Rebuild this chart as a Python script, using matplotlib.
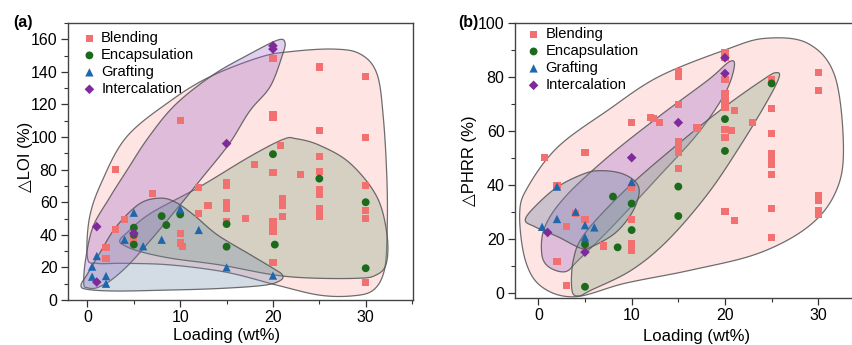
import numpy as np
import matplotlib
matplotlib.use("Agg")
import matplotlib.pyplot as plt
from matplotlib.ticker import MultipleLocator

plt.rcParams['font.family'] = ['Liberation Sans', 'DejaVu Sans']

# ---- panel (a): LOI ----
blend_a_x = [3, 10, 20, 20, 20, 25, 30, 25, 30, 20.8, 18, 20, 23, 25, 25, 25, 25, 30,
             25, 25, 25, 21, 21, 21, 30, 30, 30, 20, 20, 20, 20, 17, 15, 15, 15, 15, 15,
             15, 13, 12, 12, 10, 10, 10.2, 7, 4, 3, 2, 2, 5, 5]
blend_a_y = [80, 110, 148, 114, 112, 143, 137, 104, 100, 95, 83, 78, 77, 88, 79, 68, 65, 70.5,
             56, 53, 51, 62, 58, 51, 55, 50, 11, 23, 48, 45, 42, 50, 72, 70, 60, 58, 56,
             48, 58, 69, 53, 41, 35, 33, 65.5, 49.5, 43, 32, 25.5, 38, 36]
encap_a_x = [20, 25, 30, 30, 20.2, 15, 15, 10, 8, 8.5, 5, 5, 5]
encap_a_y = [89.5, 74.5, 60, 19.5, 34, 46.6, 32.7, 52.5, 51.5, 46, 44.4, 40, 34]
graft_a_x = [5, 10, 4, 6, 8, 12, 15, 20, 1, 0.5, 0.5, 2, 2]
graft_a_y = [53.6, 55.8, 37, 33, 37, 43, 20, 15, 27, 20.5, 14.3, 14.7, 10]
inter_a_x = [20, 20, 15, 1, 5, 1]
inter_a_y = [156, 154, 96, 45, 41, 11]

# hand-drawn envelopes (outline points)
env_blend_a_x = [0, 0.2, 1.5, 4.2, 8.9, 13.2, 18.6, 22, 26.5, 29.4, 31.2, 31.9, 32.3, 32.3,
                 32, 30.8, 28.5, 25, 20.5, 15, 9, 4, 1]
env_blend_a_y = [26, 50, 72, 100, 122, 137, 149, 152.5, 154, 151, 139, 112, 72, 40,
                 18, 6, 2.5, 3, 9, 17, 21.5, 22.5, 22.5]
env_encap_a_x = [3.5, 4.2, 6.75, 12.1, 17.5, 21.1, 22.5, 25, 28.3, 31.2, 32.3, 32.2, 31,
                 29, 24, 20, 14.3, 9, 5.5, 3.8]
env_encap_a_y = [36.8, 41, 53, 69.5, 88, 98.6, 99, 95, 84, 63.4, 40, 22, 15,
                 13.3, 13.5, 15.5, 21.5, 25.6, 30, 34]
env_graft_a_x = [-0.7, 0, 3, 8, 14, 19, 20.8, 21, 20, 17.5, 14, 11.5, 9.5, 7.8, 5.6, 3.1, 1.3, 0]
env_graft_a_y = [9, 6.5, 5.5, 6, 7, 9, 12, 15.5, 19.5, 28, 40, 52, 60, 62.5, 59, 45, 28.6, 16]
env_inter_a_x = [-0.4, -0.2, 0.6, 2.3, 4.3, 6.6, 9.5, 13.5, 17.5, 20.5, 21.3, 21, 19.7, 17.5,
                 15.3, 12.5, 9.5, 7, 4.5, 2.5, 1, 0]
env_inter_a_y = [10, 25, 45, 62, 80, 100, 120, 138, 151, 159.5, 158, 150, 131, 116,
                 96, 76, 55, 38, 22, 12, 7.5, 7.5]

# ---- panel (b): PHRR ----
blend_b_x = [0.65, 5, 2, 2, 3, 3, 4, 5, 7, 10, 10, 10, 10, 10, 12, 12.3, 13, 17, 15, 15,
             15, 15, 15, 15, 15, 20, 20, 20, 20, 20, 20, 20, 20, 21, 20.7, 23, 20, 21,
             25, 25, 25, 25, 25, 25, 25, 25, 25, 30, 30, 30, 30, 30, 30]
blend_b_y = [50, 52, 39.8, 11.7, 2.5, 24.4, 29.4, 27, 17.3, 63, 39, 27, 18.3, 15.5, 65, 64.4,
             63, 61, 82, 80, 69.8, 56, 54, 52, 46, 89, 87, 79, 73.6, 71, 68.5, 60.5, 57.5,
             67.4, 60.2, 63, 30, 26.7, 79, 68.3, 59, 51.5, 49.5, 47.5, 43.7, 31.2, 20.5,
             81.5, 75, 36, 34, 30.6, 28.8]
encap_b_x = [25, 20, 20, 15, 15, 10, 10, 8, 8.5, 5, 5]
encap_b_y = [77.5, 64.3, 52.5, 39.3, 28.4, 33, 23.2, 35.6, 16.8, 17.9, 2.2]
graft_b_x = [0.4, 2, 2, 4, 5, 5, 6, 10]
graft_b_y = [24.4, 27.3, 39.3, 30, 25, 20.5, 24.2, 41]
inter_b_x = [20, 20, 15, 10, 1, 5]
inter_b_y = [87, 81.2, 63, 50, 22.3, 15]

env_blend_b_x = [-2.0, -1.1, 2.1, 7.5, 12.9, 20, 24.3, 28.9, 31.8, 32.7, 31.8, 28.9, 23.6,
                 16.4, 9.3, 3.9, 0.36, -1.4]
env_blend_b_y = [29.4, 39.3, 54, 67.7, 80, 89.9, 94.2, 92.3, 80, 52.8, 36.8, 24.4, 14.6,
                 8.4, 3.5, -1.5, 2.2, 12.1]
env_inter_b_x = [0.36, 0.7, 2.9, 7.5, 12.9, 18.2, 20.5, 21, 20, 17.1, 12.9, 7.9, 4.3, 2.9, 1.1]
env_inter_b_y = [14.6, 24.4, 35.6, 50.4, 65.2, 78.8, 85.6, 83.7, 73.8, 59, 43, 24.4, 12.1, 7.8, 9.6]
env_encap_b_x = [3.6, 3.75, 5, 9.3, 14.6, 20, 24.3, 25.5, 25.8, 24.6, 21.8, 18.2, 13.9, 10, 5.7, 4.3]
env_encap_b_y = [1, 12.1, 22, 38, 54, 68.9, 79.4, 81.5, 79.8, 71.4, 55.3, 36.8, 19.5, 8.4, 1, -1.2]
env_graft_b_x = [-1.4, -0.36, 2.1, 5, 6.8, 8.9, 10.4, 10.8, 10, 8.2, 5.7, 4.6, 2.1, -0.36]
env_graft_b_y = [26.9, 31.9, 39.3, 44.2, 45.2, 44.2, 41.1, 36.8, 29.4, 22, 17, 16.4, 20.7, 24.4]

labels = ['Blending', 'Encapsulation', 'Grafting', 'Intercalation']
mcolors = ['#f27070', '#1c6b1c', '#1f67ad', '#7e2a98']
markers = ['s', 'o', '^', 'D']
msizes = [26, 32, 36, 24]
fills = {'blend': '#ff9a9a', 'encap': '#80a880', 'inter': '#9a60c8', 'graft': '#7088a8'}


def smooth_closed(xs, ys, n=24):
    # closed Catmull-Rom spline through the outline points
    P = np.column_stack([xs, ys]).astype(float)
    N = len(P)
    t = np.linspace(0, 1, n, endpoint=False)[:, None]
    segs = []
    for i in range(N):
        p0, p1, p2, p3 = P[i - 1], P[i], P[(i + 1) % N], P[(i + 2) % N]
        seg = 0.5 * (2 * p1 + (-p0 + p2) * t + (2 * p0 - 5 * p1 + 4 * p2 - p3) * t ** 2
                     + (-p0 + 3 * p1 - 3 * p2 + p3) * t ** 3)
        segs.append(seg)
    return np.vstack(segs)


def draw_env(ax, xs, ys, key, a, z):
    pts = smooth_closed(xs, ys)
    ax.fill(pts[:, 0], pts[:, 1], facecolor=fills[key], alpha=a, edgecolor='none', zorder=z)
    ax.fill(np.append(pts[:, 0], pts[0, 0]), np.append(pts[:, 1], pts[0, 1]),
            facecolor='none', edgecolor='#555555', lw=0.9, alpha=0.85, zorder=z + 0.5)


def style_axes(ax, ymajor, yminor):
    ax.xaxis.set_major_locator(MultipleLocator(10))
    ax.xaxis.set_minor_locator(MultipleLocator(5))
    ax.yaxis.set_major_locator(MultipleLocator(ymajor))
    ax.yaxis.set_minor_locator(MultipleLocator(yminor))
    ax.tick_params(which='major', direction='out', length=5, width=0.9, labelsize=11.5,
                   top=False, right=False, color='#333333', pad=2.5)
    ax.tick_params(which='minor', direction='out', length=3, width=0.8,
                   top=False, right=False, color='#333333')
    for s in ax.spines.values():
        s.set_color('#444444')
        s.set_linewidth(1.0)


fig = plt.figure(figsize=(8.52, 3.45), dpi=100)

# panel a
ax1 = fig.add_axes([68 / 852, 45 / 345, 345 / 852, 277 / 345])
draw_env(ax1, env_blend_a_x, env_blend_a_y, 'blend', 0.26, 1)
draw_env(ax1, env_encap_a_x, env_encap_a_y, 'encap', 0.32, 2)
draw_env(ax1, env_inter_a_x, env_inter_a_y, 'inter', 0.30, 3)
draw_env(ax1, env_graft_a_x, env_graft_a_y, 'graft', 0.30, 4)
series_a = [(blend_a_x, blend_a_y), (encap_a_x, encap_a_y), (graft_a_x, graft_a_y), (inter_a_x, inter_a_y)]
for (xs, ys), lab, c, m, s in zip(series_a, labels, mcolors, markers, msizes):
    ax1.scatter(xs, ys, marker=m, s=s, color=c, edgecolors='none', label=lab, zorder=10)
ax1.set_xlim(-2.1, 35.1)
ax1.set_ylim(0, 170)
style_axes(ax1, 20, 10)
ax1.set_xlabel('Loading (wt%)', fontsize=12)
ax1.set_ylabel('\u25b3LOI (%)', fontsize=12)
ax1.xaxis.set_label_coords(0.461, -0.1)
ax1.yaxis.set_label_coords(-0.101, 0.515)
ax1.legend(loc='upper left', bbox_to_anchor=(0.045, 0.97), frameon=False, fontsize=10.6,
           handlelength=0.8, handletextpad=0.4, labelspacing=0.2, borderpad=0,
           borderaxespad=0)

# panel b
ax2 = fig.add_axes([515 / 852, 47.3 / 345, 363 / 852, 275 / 345])
draw_env(ax2, env_blend_b_x, env_blend_b_y, 'blend', 0.26, 1)
draw_env(ax2, env_inter_b_x, env_inter_b_y, 'inter', 0.30, 2)
draw_env(ax2, env_encap_b_x, env_encap_b_y, 'encap', 0.32, 3)
draw_env(ax2, env_graft_b_x, env_graft_b_y, 'graft', 0.36, 4)
series_b = [(blend_b_x, blend_b_y), (encap_b_x, encap_b_y), (graft_b_x, graft_b_y), (inter_b_x, inter_b_y)]
for (xs, ys), lab, c, m, s in zip(series_b, labels, mcolors, markers, msizes):
    ax2.scatter(xs, ys, marker=m, s=s, color=c, edgecolors='none', label=lab, zorder=10)
ax2.set_xlim(-2.5, 36.4)
ax2.set_ylim(-1.85, 100)
style_axes(ax2, 20, 10)
ax2.set_xlabel('Loading (wt%)', fontsize=12)
ax2.set_ylabel('\u25b3PHRR (%)', fontsize=12)
ax2.xaxis.set_label_coords(0.5, -0.115)
ax2.yaxis.set_label_coords(-0.105, 0.5)
ax2.legend(loc='upper left', bbox_to_anchor=(0.035, 0.983), frameon=False, fontsize=10.6,
           handlelength=0.8, handletextpad=0.4, labelspacing=0.2, borderpad=0,
           borderaxespad=0)

fig.text(13 / 852, 1 - 23 / 345, '(a)', fontsize=11.5, fontweight='bold', va='center', ha='left')
fig.text(458 / 852, 1 - 23 / 345, '(b)', fontsize=11.5, fontweight='bold', va='center', ha='left')

fig.savefig('out.png', dpi=100)
